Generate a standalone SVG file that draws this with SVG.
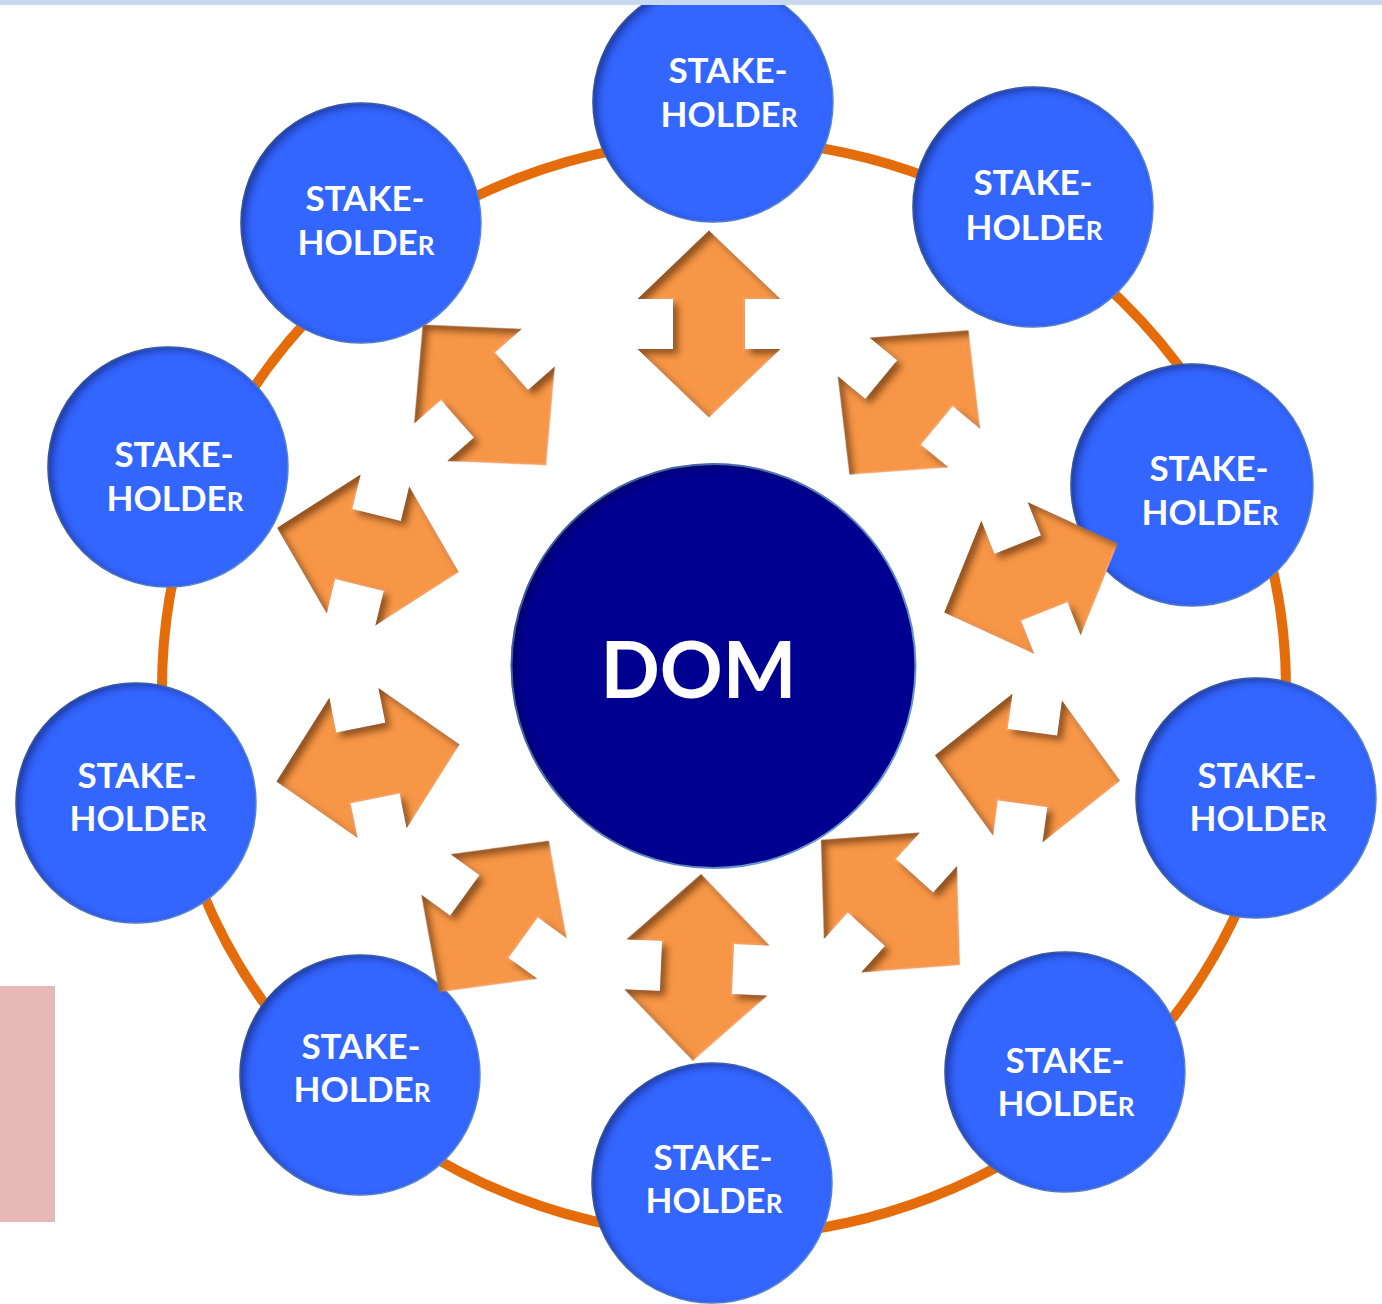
<svg xmlns="http://www.w3.org/2000/svg" xmlns:xlink="http://www.w3.org/1999/xlink" width="1382" height="1304" viewBox="0 0 1382 1304">
<style>
  .ring{fill:none;stroke:#E46C0A;stroke-width:10}
  .node{fill:#3366FF;stroke:#5B8BD6;stroke-width:1.5}
  .hub{fill:#000090;stroke:#6A9AD8;stroke-width:2}
  .lbl{font-family:Lato,"Open Sans","DejaVu Sans",sans-serif;font-weight:700;font-size:35px;fill:#FFFFFF;text-anchor:middle}
  .sc{font-size:26px}
  .hubtxt{font-family:Lato,"Open Sans","DejaVu Sans",sans-serif;font-weight:700;font-size:78px;fill:#FFFFFF;text-anchor:middle}
  .arr{fill:#F79646;stroke:#F8A060;stroke-width:2;stroke-linejoin:miter}
</style>
<defs>
  <filter id="inset" x="-10%" y="-10%" width="120%" height="120%" color-interpolation-filters="sRGB">
    <feComponentTransfer in="SourceAlpha" result="inv"><feFuncA type="table" tableValues="1 0"/></feComponentTransfer>
    <feOffset in="inv" dx="5" dy="3" result="off"/>
    <feGaussianBlur in="off" stdDeviation="4" result="blur"/>
    <feFlood flood-color="#000030" flood-opacity="0.45" result="col"/>
    <feComposite in="col" in2="blur" operator="in" result="sh"/>
    <feComposite in="sh" in2="SourceAlpha" operator="in" result="inner"/>
    <feMerge><feMergeNode in="SourceGraphic"/><feMergeNode in="inner"/></feMerge>
  </filter>
  <filter id="arrowshade" filterUnits="userSpaceOnUse" x="0" y="0" width="1382" height="1304" color-interpolation-filters="sRGB">
    <feComponentTransfer in="SourceAlpha" result="inv"><feFuncA type="table" tableValues="1 0"/></feComponentTransfer>
    <feOffset in="inv" dx="5" dy="5" result="off"/>
    <feGaussianBlur in="off" stdDeviation="3.5" result="blur"/>
    <feFlood flood-color="#4A2200" flood-opacity="0.6" result="col"/>
    <feComposite in="col" in2="blur" operator="in" result="sh"/>
    <feComposite in="sh" in2="SourceAlpha" operator="in" result="inner"/>
    <feMerge><feMergeNode in="SourceGraphic"/><feMergeNode in="inner"/></feMerge>
  </filter>
  <path id="dbl" d="M -92,0 L -26,-69 L -26,-35 L 26,-35 L 26,-69 L 92,0 L 26,69 L 26,35 L -26,35 L -26,69 Z"/>
</defs>

<rect x="0" y="0" width="1382" height="1304" fill="#FFFFFF"/>

<ellipse class="ring" cx="724" cy="688" rx="562" ry="548"/>

<g id="node-1"><circle class="node" filter="url(#inset)" cx="713" cy="102" r="120"/>
  <text class="lbl" x="728" y="83">STAKE-</text><text class="lbl" x="729" y="127">HOLDE<tspan class="sc">R</tspan></text></g>
<g id="node-2"><circle class="node" filter="url(#inset)" cx="1033" cy="207" r="120"/>
  <text class="lbl" x="1033" y="195">STAKE-</text><text class="lbl" x="1034" y="240">HOLDE<tspan class="sc">R</tspan></text></g>
<g id="node-3"><circle class="node" filter="url(#inset)" cx="1192" cy="485" r="121"/>
  <text class="lbl" x="1209" y="481">STAKE-</text><text class="lbl" x="1210" y="525">HOLDE<tspan class="sc">R</tspan></text></g>
<g id="node-4"><circle class="node" filter="url(#inset)" cx="1256" cy="798" r="120"/>
  <text class="lbl" x="1257" y="788">STAKE-</text><text class="lbl" x="1258" y="831">HOLDE<tspan class="sc">R</tspan></text></g>
<g id="node-5"><circle class="node" filter="url(#inset)" cx="1065" cy="1072" r="120"/>
  <text class="lbl" x="1065" y="1073">STAKE-</text><text class="lbl" x="1066" y="1116">HOLDE<tspan class="sc">R</tspan></text></g>
<g id="node-6"><circle class="node" filter="url(#inset)" cx="712" cy="1183" r="120"/>
  <text class="lbl" x="713" y="1170">STAKE-</text><text class="lbl" x="714" y="1213">HOLDE<tspan class="sc">R</tspan></text></g>
<g id="node-7"><circle class="node" filter="url(#inset)" cx="360" cy="1075" r="120"/>
  <text class="lbl" x="361" y="1059">STAKE-</text><text class="lbl" x="362" y="1102">HOLDE<tspan class="sc">R</tspan></text></g>
<g id="node-8"><circle class="node" filter="url(#inset)" cx="136" cy="803" r="120"/>
  <text class="lbl" x="137" y="788">STAKE-</text><text class="lbl" x="138" y="831">HOLDE<tspan class="sc">R</tspan></text></g>
<g id="node-9"><circle class="node" filter="url(#inset)" cx="168" cy="467" r="120"/>
  <text class="lbl" x="174" y="467">STAKE-</text><text class="lbl" x="175" y="511">HOLDE<tspan class="sc">R</tspan></text></g>
<g id="node-10"><circle class="node" filter="url(#inset)" cx="361" cy="223" r="120"/>
  <text class="lbl" x="365" y="211">STAKE-</text><text class="lbl" x="366" y="255">HOLDE<tspan class="sc">R</tspan></text></g>

<g id="hub"><circle class="hub" filter="url(#inset)" cx="713.5" cy="666" r="202"/>
  <text class="hubtxt" x="698.5" y="698">DOM</text></g>

<g id="connectors" filter="url(#arrowshade)">
  <use class="arr" xlink:href="#dbl" href="#dbl" transform="translate(709,324) rotate(90)"/>
  <use class="arr" xlink:href="#dbl" href="#dbl" transform="translate(909,402.5) rotate(-50.5)"/>
  <use class="arr" xlink:href="#dbl" href="#dbl" transform="translate(1031,578) rotate(-21.7)"/>
  <use class="arr" xlink:href="#dbl" href="#dbl" transform="translate(1027.5,768) rotate(7.8)"/>
  <use class="arr" xlink:href="#dbl" href="#dbl" transform="translate(890.5,902.5) rotate(42)"/>
  <use class="arr" xlink:href="#dbl" href="#dbl" transform="translate(697,967.5) rotate(92.5)"/>
  <use class="arr" xlink:href="#dbl" href="#dbl" transform="translate(494,916.5) rotate(125.9)"/>
  <use class="arr" xlink:href="#dbl" href="#dbl" transform="translate(368,763) rotate(-11.4)"/>
  <use class="arr" xlink:href="#dbl" href="#dbl" transform="translate(368,550) rotate(13.7)"/>
  <use class="arr" xlink:href="#dbl" href="#dbl" transform="translate(484.5,395) rotate(48.7)"/>
</g>

<rect x="0" y="0" width="1382" height="5" fill="#C6D9F1"/>
<rect x="0" y="986" width="55" height="236" fill="#E6B9B8"/>
</svg>
